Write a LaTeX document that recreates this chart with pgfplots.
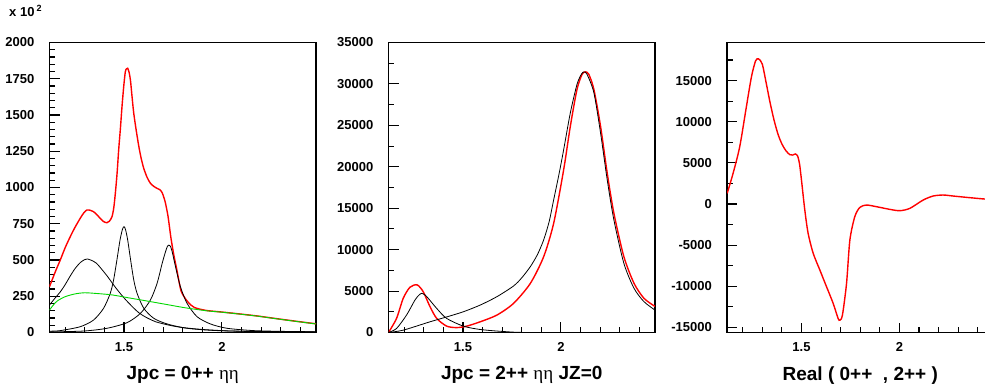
\documentclass[border=0pt]{standalone}
\usepackage{pgfplots}
\pgfplotsset{compat=1.18}
\usepackage{fontspec}
\setmainfont{Liberation Sans}
\newfontfamily\grk{Liberation Serif}
\definecolor{myred}{RGB}{255,0,0}
\definecolor{mygreen}{RGB}{0,215,0}
\pgfplotsset{
  panel/.style={
    scale only axis, width=266.5pt, height=290pt, anchor=south west,
    xmin=1.12, xmax=2.48, scaled y ticks=false, scaled x ticks=false,
    tick align=inside, tick pos=left,
    xtick={1.5,2}, xticklabels={1.5,2},
    minor xtick={1.2,1.3,1.4,1.6,1.7,1.8,1.9,2.1,2.2,2.3,2.4},
    major tick length=10pt, minor tick length=5.5pt,
    every tick/.style={black, line width=1.1pt},
    axis line style={line width=1.3pt},
    ticklabel style={font=\fontsize{13}{13}\selectfont\bfseries, inner sep=0pt},
    xticklabel style={yshift=-10pt},
    yticklabel style={xshift=-15pt},
    xlabel style={at={(axis description cs:0.5,0)}, anchor=base, yshift=-47.5pt, font=\fontsize{19}{19}\selectfont\bfseries, inner sep=0pt},
    every axis plot/.append style={smooth, tension=0.45, no markers},
  }
}
\begin{document}
\begin{tikzpicture}
% ---------- Panel 1 ----------
\begin{axis}[panel, at={(49.5pt,54.5pt)}, ymin=0, ymax=2000,
  ytick={0,250,500,750,1000,1250,1500,1750,2000},
  yticklabels={0,250,500,750,1000,1250,1500,1750,2000},
  minor ytick={50,100,...,1950},
  xlabel={Jpc = 0++ {\mdseries\grk ηη}}]
\addplot[myred, line width=1.4pt] coordinates {
(1.12,316) (1.15,420) (1.175,500) (1.2,585) (1.226,661) (1.25,725) (1.277,788) (1.295,825)
(1.311,845) (1.33,842) (1.345,833) (1.362,812) (1.379,787) (1.396,765) (1.413,757) (1.426,768)
(1.439,799) (1.448,860) (1.456,960) (1.465,1100) (1.473,1259) (1.482,1410) (1.490,1558)
(1.499,1700) (1.507,1799) (1.513,1818) (1.519,1822) (1.526,1795) (1.533,1741) (1.541,1630)
(1.550,1511) (1.563,1390) (1.576,1282) (1.588,1200) (1.601,1132) (1.618,1070) (1.635,1029)
(1.652,1008) (1.669,994) (1.683,985) (1.695,964) (1.704,930) (1.712,891) (1.725,800)
(1.74,650) (1.755,530) (1.77,431) (1.79,293) (1.81,240) (1.83,205) (1.86,172) (1.92,152)
(2.0,141) (2.09,128) (2.18,114) (2.26,99) (2.37,79) (2.48,60)};
\addplot[black, line width=0.8pt] coordinates {
(1.12,190) (1.15,240) (1.175,280) (1.2,330) (1.226,390) (1.25,440) (1.277,482) (1.30,503)
(1.314,507) (1.33,500) (1.36,477) (1.41,397) (1.46,305) (1.51,224) (1.58,132) (1.66,75)
(1.77,40) (1.89,22) (2.05,10) (2.25,5) (2.48,3)};
\addplot[black, line width=0.8pt] coordinates {
(1.12,9) (1.175,13) (1.277,40) (1.345,86) (1.396,167) (1.43,270) (1.447,362) (1.464,500)
(1.48,638) (1.492,710) (1.50,730) (1.508,710) (1.519,638) (1.534,500) (1.55,362) (1.567,270)
(1.601,167) (1.652,98) (1.72,59) (1.822,29) (1.975,13) (2.2,7) (2.48,4)};
\addplot[black, line width=0.8pt] coordinates {
(1.12,4) (1.294,10) (1.413,29) (1.516,68) (1.584,132) (1.635,224) (1.669,339) (1.695,477)
(1.712,557) (1.722,595) (1.729,603) (1.737,595) (1.746,557) (1.763,454) (1.788,316)
(1.822,201) (1.873,109) (1.941,59) (2.026,29) (2.162,13) (2.3,8) (2.48,5)};
\addplot[mygreen, line width=0.9pt] coordinates {
(1.12,155) (1.14,190) (1.16,218) (1.2,247) (1.25,266) (1.30,274) (1.37,268) (1.44,259)
(1.52,240) (1.61,219) (1.71,195) (1.81,171) (1.92,150) (2.0,140) (2.09,127) (2.18,113)
(2.26,98) (2.37,78) (2.48,59)};
\end{axis}
% ---------- Panel 2 ----------
\begin{axis}[panel, at={(388.5pt,54.5pt)}, ymin=0, ymax=35000,
  ytick={0,5000,10000,15000,20000,25000,30000,35000},
  yticklabels={0,5000,10000,15000,20000,25000,30000,35000},
  minor ytick={2500,7500,12500,17500,22500,27500,32500},
  xlabel={Jpc = 2++ {\mdseries\grk ηη} JZ=0}]
\addplot[myred, line width=1.4pt] coordinates {
(1.12,0) (1.161,1696) (1.195,4118) (1.229,5450) (1.266,5750) (1.297,4925) (1.332,3108)
(1.366,1696) (1.417,767) (1.468,590) (1.519,767) (1.588,1292) (1.673,2099) (1.758,3512)
(1.844,5934) (1.912,9164) (1.963,13201) (2.014,19660) (2.048,24908) (2.082,29349)
(2.108,31166) (2.125,31450) (2.142,31166) (2.168,29349) (2.202,24908) (2.236,19257)
(2.270,14412) (2.321,9164) (2.373,5934) (2.424,4118) (2.48,3150)};
\addplot[black, line width=0.8pt] coordinates {
(1.12,0) (1.161,484) (1.212,2099) (1.255,3916) (1.275,4500) (1.289,4723) (1.305,4550)
(1.323,4118) (1.366,2907) (1.417,1696) (1.502,767) (1.588,363) (1.707,121) (1.844,0) (2.48,0)};
\addplot[black, line width=0.8pt] coordinates {
(1.12,0) (1.195,280) (1.332,1292) (1.42,1900) (1.502,2503) (1.588,3310) (1.673,4320) (1.758,5611)
(1.80,6600) (1.844,7953) (1.88,9400) (1.912,11182) (1.94,13400) (1.963,16027) (1.99,19100)
(2.014,22082) (2.048,26523) (2.082,29954)
(2.105,31200) (2.118,31448) (2.133,31166) (2.168,28945) (2.202,24101) (2.236,18449)
(2.270,13605) (2.321,8357) (2.373,5329) (2.424,3714) (2.48,2705)};
\end{axis}
% ---------- Panel 3 ----------
\begin{axis}[panel, at={(727pt,54.3pt)}, ymin=-15630, ymax=19600,
  ytick={-15000,-10000,-5000,0,5000,10000,15000},
  yticklabels={-15000,-10000,-5000,0,5000,10000,15000},
  minor ytick={-12500,-7500,-2500,2500,7500,12500,17500},
  xlabel={Real ( 0++~~, 2++ )}]
\addplot[myred, line width=1.4pt] coordinates {
(1.121,1297) (1.151,3730) (1.185,6973) (1.219,11838) (1.245,15486) (1.266,17400) (1.281,17635)
(1.30,17000) (1.32,14700) (1.34,12300) (1.36,10200) (1.38,8500) (1.40,7300) (1.42,6500)
(1.44,6000) (1.455,5950) (1.468,6080) (1.48,5850) (1.49,4900) (1.500,2919) (1.517,-730)
(1.534,-3568) (1.560,-6000) (1.594,-8027)
(1.628,-10054) (1.662,-12081) (1.687,-13905) (1.696,-14108) (1.709,-13500) (1.730,-9649)
(1.747,-4378) (1.772,-1540) (1.798,-405) (1.832,-122) (1.883,-324) (1.951,-649) (2.002,-811)
(2.053,-527) (2.121,486) (2.172,973) (2.223,1095) (2.274,973) (2.342,811) (2.435,608) (2.48,550)};
\end{axis}
\node[anchor=base west, inner sep=0pt, font=\fontsize{13}{13}\selectfont\bfseries] at (9pt,370pt) {x 10\,\raisebox{5pt}{\fontsize{9}{9}\selectfont 2}};
\pgfresetboundingbox
\useasboundingbox (0pt,0pt) rectangle (985pt,387pt);
\end{tikzpicture}
\end{document}
